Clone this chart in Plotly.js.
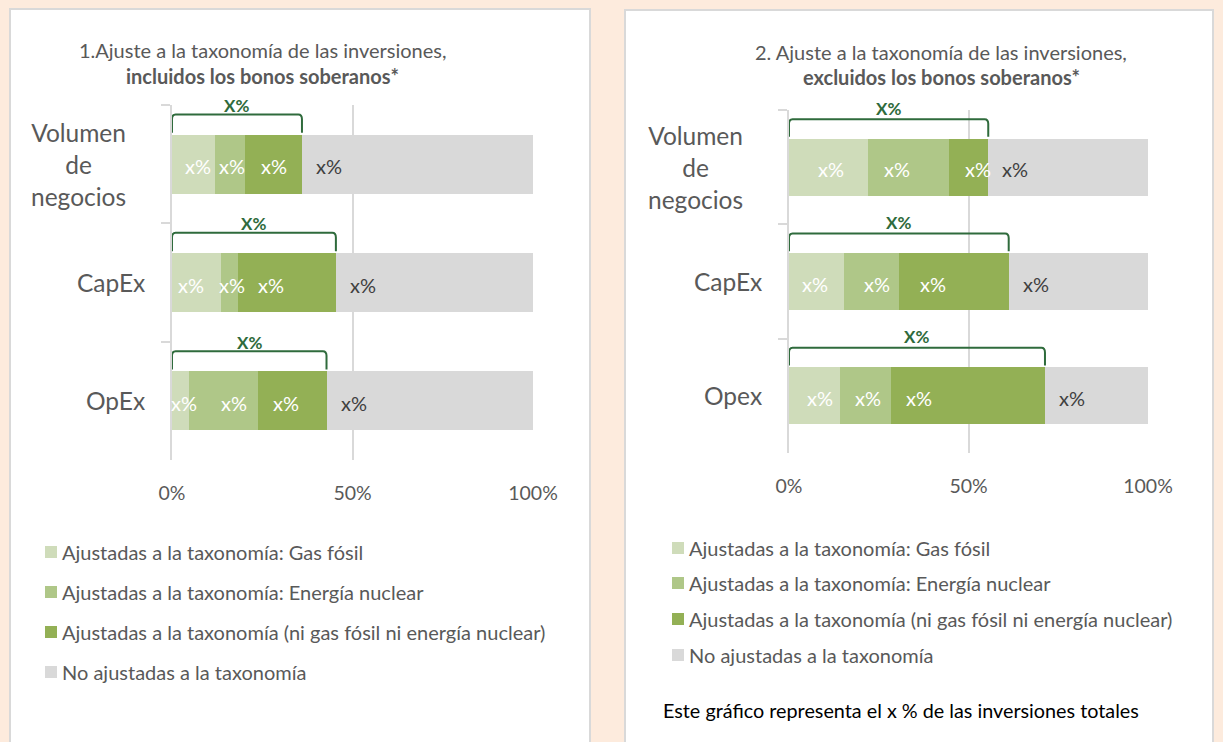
<!DOCTYPE html>
<html><head><meta charset="utf-8">
<script src="https://cdn.plot.ly/plotly-3.0.1.min.js"></script>
<style>html,body{margin:0;padding:0;background:#FDEBDD;} #chart{width:1223px;height:742px;}</style>
</head><body><div id="chart"></div>
<script>
// ---------------- data ----------------
const categories1 = ['Volumen de negocios', 'CapEx', 'OpEx'];
const categories2 = ['Volumen de negocios', 'CapEx', 'Opex'];
const catLabels1 = ['Volumen<br>de<br>negocios', 'CapEx', 'OpEx'];
const catLabels2 = ['Volumen<br>de<br>negocios', 'CapEx', 'Opex'];
const seriesNames = [
  'Ajustadas a la taxonomía: Gas fósil',
  'Ajustadas a la taxonomía: Energía nuclear',
  'Ajustadas a la taxonomía (ni gas fósil ni energía nuclear)',
  'No ajustadas a la taxonomía'
];
// Panel 1 (incluidos los bonos soberanos)
const gas1 = [12.0, 13.6, 4.7];
const nuclear1 = [8.2, 4.7, 19.1];
const other1 = [15.8, 27.1, 19.0];
const notAligned1 = [64.0, 54.6, 57.2];
// Panel 2 (excluidos los bonos soberanos)
const gas2 = [22.0, 15.3, 14.2];
const nuclear2 = [22.6, 15.3, 14.2];
const other2 = [10.9, 30.6, 42.9];
const notAligned2 = [44.5, 38.8, 28.7];
const segLabels = ['x%', 'x%', 'x%', 'x%'];
const bracketLabel = 'X%';
const xTickVals = [0, 50, 100];
const xTickText = ['0%', '50%', '100%'];
const titles1 = ['1.Ajuste a la taxonomía de las inversiones,', 'incluidos los bonos soberanos*'];
const titles2 = ['2. Ajuste a la taxonomía de las inversiones,', 'excluidos los bonos soberanos*'];
const footnote = 'Este gráfico representa el x % de las inversiones totales';

// ---------------- style ----------------
const W = 1223, H = 742;
const px = v => v / W, py = v => 1 - v / H;
const FONT = 'Lato, "Open Sans", sans-serif';
const colors = ['#CFDCBA', '#AFC788', '#93B055', '#D9D9D9'];
const labelColors = ['#FFFFFF', '#FFFFFF', '#FFFFFF', '#404040'];
const textGray = '#595959';
const bracketColor = '#2F6B3C';
const gridColor = '#D9D9D9';
// manual nudges (px) of the in-bar labels, per panel / category / segment, as in the original
const labelNudge = [
  [[4, 2, 1, 12], [-6, 2, -16, 12], [4, 11, -6, 12]],
  [[3, -12, 9, 12], [-1, 6, -21, 12], [6, 3, -49, 12]]
];

const panels = [
  {cats: categories1, labels: catLabels1, series: [gas1, nuclear1, other1, notAligned1],
   xa: 'x', ya: 'y', axisPx: 172, xDom: [172, 533], yDom: [105, 460], titles: titles1,
   titleX: 262, titleY: [50, 76], brShift: 9,
   legX: 45, legY: [552, 592, 632, 672]},
  {cats: categories2, labels: catLabels2, series: [gas2, nuclear2, other2, notAligned2],
   xa: 'x2', ya: 'y2', axisPx: 789, xDom: [789, 1148], yDom: [110, 453], titles: titles2,
   titleX: 941, titleY: [52, 77], brShift: 11,
   legX: 672, legY: [548, 583, 619, 655]}
];

const traces = [];
const annotations = [];
const shapes = [
  {type: 'rect', xref: 'paper', yref: 'paper', x0: px(10), x1: px(590), y0: py(9), y1: py(800),
   line: {color: '#D9D9D9', width: 2}, fillcolor: '#FFFFFF', layer: 'below'},
  {type: 'rect', xref: 'paper', yref: 'paper', x0: px(625), x1: px(1213), y0: py(10), y1: py(800),
   line: {color: '#D9D9D9', width: 2}, fillcolor: '#FFFFFF', layer: 'below'}
];

panels.forEach((p, pi) => {
  // bars
  p.series.forEach((vals, si) => {
    traces.push({
      type: 'bar', orientation: 'h', x: vals, y: p.cats, name: seriesNames[si],
      xaxis: p.xa, yaxis: p.ya, width: 0.5, showlegend: false,
      marker: {color: colors[si], line: {width: 0}},
      hovertemplate: '%{y}: %{x}%<extra>' + seriesNames[si] + '</extra>'
    });
  });
  // segment labels
  p.cats.forEach((c, ci) => {
    let cum = 0;
    p.series.forEach((vals, si) => {
      const v = vals[ci];
      const isRest = si === p.series.length - 1;
      annotations.push({
        xref: p.xa, yref: p.ya, x: isRest ? cum : cum + v / 2, y: ci,
        xanchor: isRest ? 'left' : 'center', xshift: labelNudge[pi][ci][si], yshift: -2,
        text: segLabels[si], showarrow: false,
        font: {family: FONT, size: 20, color: labelColors[si]}
      });
      cum += v;
    });
    // bracket over aligned part
    const T = p.series[0][ci] + p.series[1][ci] + p.series[2][ci];
    const top = ci - 0.42, bot = ci - 0.265, r = 0.04, dx = 1.0;
    shapes.push({
      type: 'path', xref: p.xa, yref: p.ya,
      path: `M 0,${bot} L 0,${top + r} Q 0,${top} ${dx},${top} L ${T - dx},${top} Q ${T},${top} ${T},${top + r} L ${T},${bot}`,
      line: {color: bracketColor, width: 2}
    });
    annotations.push({
      xref: p.xa, yref: p.ya, x: T / 2, y: top, yanchor: 'middle', yshift: p.brShift,
      text: '<b>' + bracketLabel + '</b>', showarrow: false,
      font: {family: FONT, size: 17, color: bracketColor}
    });
    // category labels
    const multi = p.labels[ci].includes('<br>');
    annotations.push({
      xref: 'paper', yref: p.ya, x: px(p.axisPx), y: ci, xanchor: 'right', yanchor: 'middle',
      xshift: multi ? -44 : -25, align: 'center', text: p.labels[ci], showarrow: false,
      font: {family: FONT, size: 24.5, color: textGray}
    });
  });
  // titles
  annotations.push({xref: 'paper', yref: 'paper', x: px(p.titleX), y: py(p.titleY[0]),
    xanchor: 'center', yanchor: 'middle', text: p.titles[0], showarrow: false,
    font: {family: FONT, size: 20, color: textGray}});
  annotations.push({xref: 'paper', yref: 'paper', x: px(p.titleX), y: py(p.titleY[1]),
    xanchor: 'center', yanchor: 'middle', text: '<b>' + p.titles[1] + '</b>', showarrow: false,
    font: {family: FONT, size: 20, color: textGray}});
  // legend
  seriesNames.forEach((n, si) => {
    const cy = p.legY[si];
    shapes.push({type: 'rect', xref: 'paper', yref: 'paper',
      x0: px(p.legX), x1: px(p.legX + 12), y0: py(cy - 6), y1: py(cy + 6),
      fillcolor: colors[si], line: {width: 0}});
    annotations.push({xref: 'paper', yref: 'paper', x: px(p.legX + 15), y: py(cy),
      xanchor: 'left', yanchor: 'middle', text: n, showarrow: false,
      font: {family: FONT, size: 20, color: textGray}});
  });
});

annotations.push({xref: 'paper', yref: 'paper', x: px(661), y: py(710), xanchor: 'left', yanchor: 'middle',
  text: footnote, showarrow: false, font: {family: FONT, size: 19.8, color: '#000000'}});

function xAxis(p) {
  return {domain: [px(p.xDom[0]), px(p.xDom[1])], anchor: p.ya, range: [0, 100],
    tickvals: xTickVals, ticktext: xTickText, showgrid: true, gridcolor: gridColor, gridwidth: 2,
    zeroline: false, showline: false, ticks: '', ticklabelstandoff: 19,
    tickfont: {family: FONT, size: 19.5, color: textGray}, fixedrange: true};
}
function yAxis(p) {
  return {domain: [py(p.yDom[1]), py(p.yDom[0])], anchor: p.xa, type: 'category',
    categoryorder: 'array', categoryarray: p.cats, range: [2.5, -0.5],
    showticklabels: false, ticks: 'outside', tickson: 'boundaries', ticklen: 9,
    tickcolor: gridColor, tickwidth: 2, showline: true, linecolor: gridColor, linewidth: 2,
    showgrid: false, zeroline: false, fixedrange: true};
}

const layout = {
  width: W, height: H, margin: {l: 0, r: 0, t: 0, b: 0},
  paper_bgcolor: '#FDEBDD', plot_bgcolor: 'rgba(0,0,0,0)',
  barmode: 'stack', bargap: 0, showlegend: false,
  font: {family: FONT, color: textGray},
  xaxis: xAxis(panels[0]), yaxis: yAxis(panels[0]),
  xaxis2: xAxis(panels[1]), yaxis2: yAxis(panels[1]),
  shapes: shapes, annotations: annotations
};

Plotly.newPlot('chart', traces, layout, {displayModeBar: false, staticPlot: true});
</script>
</body></html>
